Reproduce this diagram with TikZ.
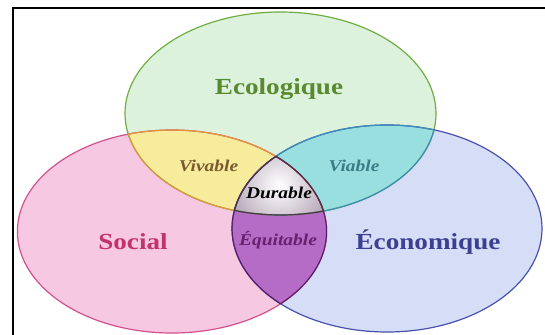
\documentclass[tikz,border=0pt]{standalone}
\usepackage{fontspec}
\usepackage{graphicx}
\setmainfont{Liberation Serif}
\definecolor{ecofill}{HTML}{DCF2DC}
\definecolor{socfill}{HTML}{F6C8E2}
\definecolor{conofill}{HTML}{D5DEF6}
\definecolor{vivfill}{HTML}{F6EC9C}
\definecolor{viafill}{HTML}{9ADFDF}
\definecolor{equfill}{HTML}{B46CC6}
\definecolor{durout}{HTML}{B4A4B6}
\definecolor{ecoline}{HTML}{6EAE42}
\definecolor{socline}{HTML}{D2508C}
\definecolor{conoline}{HTML}{4852AE}
\definecolor{vivline}{HTML}{E0963A}
\definecolor{vialine}{HTML}{3A8EB8}
\definecolor{equline}{HTML}{5C1E6C}
\definecolor{durline}{HTML}{4E3446}
\definecolor{ecotext}{HTML}{5A8A30}
\definecolor{soctext}{HTML}{C2336E}
\definecolor{conotext}{HTML}{3C4090}
\definecolor{vivtext}{HTML}{7A5A30}
\definecolor{viatext}{HTML}{3A7D86}
\definecolor{equtext}{HTML}{6A1F70}
\def\Eco{(280.5,113.5) ellipse [x radius=155.5pt, y radius=101.5pt]}
\def\Soc{(172,231.5) ellipse [x radius=154.6pt, y radius=101.5pt]}
\def\Cono{(387,228.5) ellipse [x radius=155pt, y radius=103.5pt]}
\tikzset{
  bigtext/.style={font=\bfseries\fontsize{23}{26}\selectfont, inner sep=0pt},
  smalltext/.style={font=\bfseries\itshape\fontsize{16.5}{19}\selectfont, inner sep=0pt},
  ring/.style={line width=1.2pt}
}
\begin{document}
\begin{tikzpicture}[x=1pt,y=-1pt]
\useasboundingbox (0,0) rectangle (545,334);
\clip (0,0) rectangle (545,334);
\fill[white] (0,0) rectangle (545,334);
\draw[line width=1.6pt] (13,8) rectangle (570,360);
% base fills
\fill[ecofill] \Eco;
\fill[socfill] \Soc;
\fill[conofill] \Cono;
% pairwise intersections
\begin{scope}\clip \Soc; \fill[vivfill] \Eco; \end{scope}
\begin{scope}\clip \Eco; \fill[viafill] \Cono; \end{scope}
\begin{scope}\clip \Soc; \fill[equfill] \Cono; \end{scope}
% triple intersection
\begin{scope}\clip \Eco; \clip \Soc; \clip \Cono;
  \shade[inner color=white, outer color=durout] (279,185) circle (52pt);
\end{scope}
% outlines
\draw[ring, ecoline] \Eco;
\draw[ring, socline] \Soc;
\draw[ring, conoline] \Cono;
\begin{scope}\clip \Soc; \draw[ring, vivline] \Eco; \end{scope}
\begin{scope}\clip \Eco; \draw[ring, vivline] \Soc; \end{scope}
\begin{scope}\clip \Cono; \draw[ring, vialine] \Eco; \end{scope}
\begin{scope}\clip \Eco; \draw[ring, vialine] \Cono; \end{scope}
\begin{scope}\clip \Cono; \draw[ring, equline] \Soc; \end{scope}
\begin{scope}\clip \Soc; \draw[ring, equline] \Cono; \end{scope}
\begin{scope}\clip \Soc; \clip \Cono; \draw[ring, durline] \Eco; \end{scope}
\begin{scope}\clip \Eco; \clip \Cono; \draw[ring, durline] \Soc; \end{scope}
\begin{scope}\clip \Eco; \clip \Soc; \draw[ring, durline] \Cono; \end{scope}
% labels
\node[bigtext, text=ecotext] (eco) at (279,89) {\scalebox{1.18}[1]{Ecologique}};
\node[bigtext, text=soctext] (soc) at (133,242) {\scalebox{1.18}[1]{Social}};
\node[bigtext, text=conotext] (cono) at (428,242) {\scalebox{1.18}[1]{Économique}};
\node[smalltext, text=vivtext] (viv) at (208.5,166) {\scalebox{1.18}[1]{Vivable}};
\node[smalltext, text=viatext] (via) at (354,166) {\scalebox{1.18}[1]{Viable}};
\node[smalltext, text=black] (dur) at (279,193) {\scalebox{1.18}[1]{Durable}};
\node[smalltext, text=equtext] (equ) at (278,240) {\scalebox{1.18}[1]{Équitable}};
\end{tikzpicture}
\end{document}
